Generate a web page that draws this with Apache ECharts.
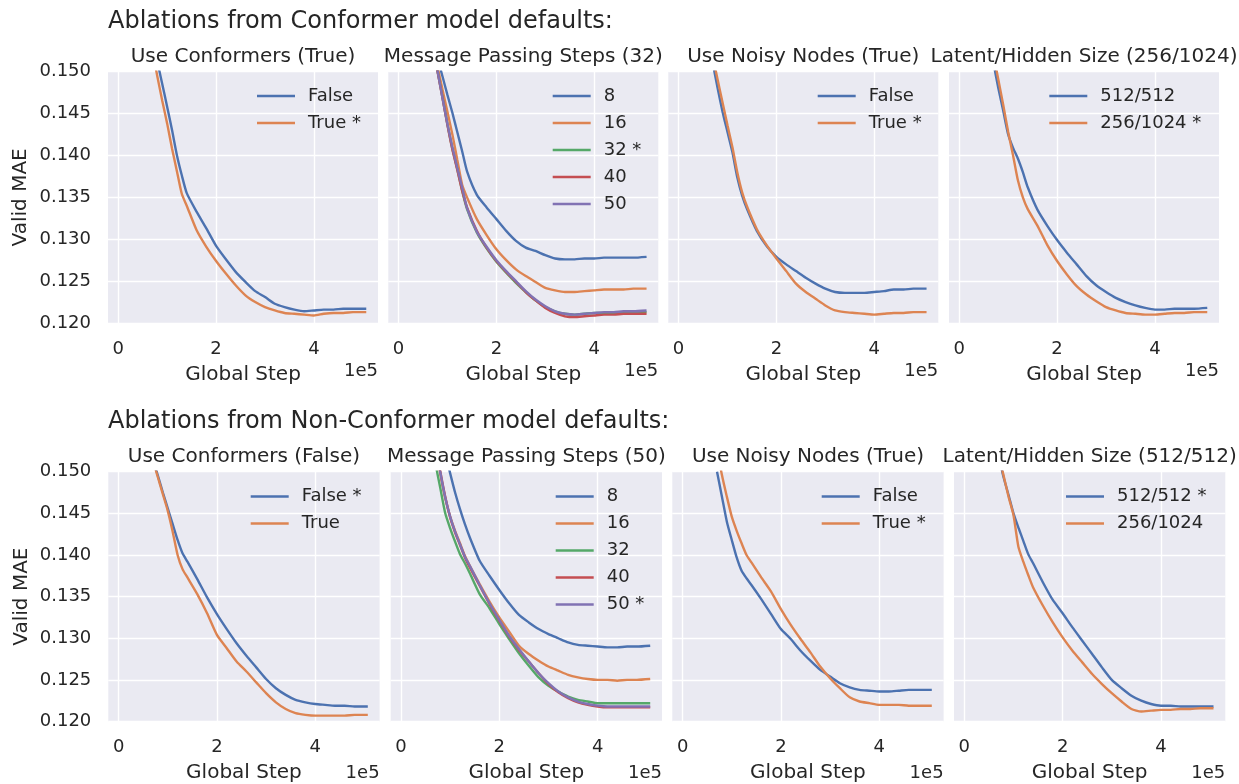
<!DOCTYPE html>
<html><head><meta charset="utf-8">
<script src="https://cdn.jsdelivr.net/npm/echarts@6/dist/echarts.min.js"></script>
<style>html,body{margin:0;padding:0;background:#fff}#c{width:1239px;height:784px}</style>
</head><body><div id="c"></div><script>
// Global step (x 1e5)
const STEPS = [0.7,0.8,0.9,1.0,1.1,1.2,1.3,1.4,1.6,1.8,2.0,2.2,2.4,2.6,2.8,3.0,3.2,3.4,3.6,3.8,4.0,4.2,4.4,4.6,4.8,5.07];
const X_TICKS = [0, 2, 4];

const ROW_TITLES = ['Ablations from Conformer model defaults:', 'Ablations from Non-Conformer model defaults:'];
const PANEL_TITLES = [
  'Use Conformers (True)', 'Message Passing Steps (32)', 'Use Noisy Nodes (True)', 'Latent/Hidden Size (256/1024)',
  'Use Conformers (False)', 'Message Passing Steps (50)', 'Use Noisy Nodes (True)', 'Latent/Hidden Size (512/512)'
];
const LEGEND_LABELS = [
  ['False', 'True *'], ['8', '16', '32 *', '40', '50'], ['False', 'True *'], ['512/512', '256/1024 *'],
  ['False *', 'True'], ['8', '16', '32', '40', '50 *'], ['False', 'True *'], ['512/512 *', '256/1024']
];

// Row 1: Conformer defaults
const A_CONF_FALSE = [0.1543,0.1512,0.1485,0.1458,0.1430,0.1400,0.1376,0.1355,0.1333,0.1313,0.1292,0.1276,0.1261,0.1249,0.1238,0.1231,0.1223,0.1219,0.1216,0.1214,0.1215,0.1216,0.1216,0.1217,0.1217,0.1217];
const A_CONF_TRUE  = [0.1525,0.1494,0.1465,0.1438,0.1408,0.1381,0.1354,0.1340,0.1311,0.1291,0.1274,0.1259,0.1245,0.1233,0.1225,0.1219,0.1215,0.1212,0.1211,0.1210,0.1209,0.1211,0.1212,0.1212,0.1213,0.1213];
const A_MP_8  = [0.1537,0.1515,0.1494,0.1472,0.1451,0.1428,0.1405,0.1381,0.1353,0.1338,0.1324,0.1310,0.1298,0.1290,0.1286,0.1281,0.1277,0.1276,0.1276,0.1277,0.1277,0.1278,0.1278,0.1278,0.1278,0.1279];
const A_MP_16 = [0.1532,0.1505,0.1478,0.1452,0.1425,0.1395,0.1365,0.1350,0.1324,0.1305,0.1288,0.1275,0.1264,0.1256,0.1249,0.1242,0.1239,0.1237,0.1237,0.1238,0.1239,0.1240,0.1240,0.1240,0.1241,0.1241];
const A_MP_32 = [0.1530,0.1500,0.1469,0.1437,0.1408,0.1384,0.1358,0.1336,0.1308,0.1289,0.1273,0.1260,0.1248,0.1237,0.1227,0.1219,0.1214,0.1211,0.1210,0.1211,0.1212,0.1212,0.1212,0.1212,0.1213,0.1213];
const A_MP_40 = [0.1530,0.1499,0.1468,0.1436,0.1407,0.1383,0.1358,0.1338,0.1310,0.1290,0.1274,0.1261,0.1249,0.1237,0.1227,0.1218,0.1212,0.1208,0.1207,0.1208,0.1209,0.1210,0.1210,0.1211,0.1211,0.1211];
const A_MP_50 = [0.1531,0.1500,0.1468,0.1437,0.1410,0.1385,0.1362,0.1337,0.1309,0.1291,0.1275,0.1262,0.1250,0.1238,0.1228,0.1220,0.1214,0.1211,0.1210,0.1211,0.1212,0.1213,0.1213,0.1214,0.1214,0.1215];
const A_NN_FALSE = [0.1510,0.1480,0.1452,0.1428,0.1404,0.1374,0.1352,0.1336,0.1310,0.1292,0.1279,0.1270,0.1262,0.1254,0.1247,0.1241,0.1237,0.1236,0.1236,0.1236,0.1237,0.1238,0.1240,0.1240,0.1241,0.1241];
const A_NN_TRUE  = [0.1518,0.1490,0.1463,0.1436,0.1410,0.1380,0.1356,0.1339,0.1312,0.1293,0.1277,0.1262,0.1247,0.1237,0.1229,0.1221,0.1215,0.1213,0.1212,0.1211,0.1210,0.1211,0.1212,0.1212,0.1213,0.1213];
const A_LH_512 = [0.1510,0.1480,0.1453,0.1425,0.1409,0.1396,0.1380,0.1362,0.1335,0.1316,0.1299,0.1284,0.1270,0.1256,0.1245,0.1237,0.1230,0.1225,0.1221,0.1218,0.1216,0.1216,0.1217,0.1217,0.1217,0.1218];
const A_LH_256 = [0.1520,0.1490,0.1460,0.1428,0.1400,0.1370,0.1350,0.1336,0.1316,0.1293,0.1274,0.1258,0.1244,0.1234,0.1226,0.1219,0.1215,0.1212,0.1211,0.1210,0.1210,0.1211,0.1212,0.1212,0.1213,0.1213];

// Row 2: Non-Conformer defaults
const B_CONF_FALSE = [0.1515,0.1495,0.1475,0.1456,0.1437,0.1418,0.1402,0.1392,0.1371,0.1349,0.1329,0.1311,0.1294,0.1279,0.1265,0.1251,0.1240,0.1232,0.1226,0.1223,0.1221,0.1220,0.1219,0.1219,0.1218,0.1218];
const B_CONF_TRUE  = [0.1513,0.1493,0.1473,0.1453,0.1428,0.1400,0.1383,0.1373,0.1353,0.1330,0.1304,0.1288,0.1272,0.1260,0.1247,0.1234,0.1223,0.1215,0.1210,0.1208,0.1207,0.1207,0.1207,0.1207,0.1208,0.1208];
const B_MP_8  = [0.1570,0.1545,0.1522,0.1498,0.1475,0.1455,0.1437,0.1421,0.1393,0.1375,0.1358,0.1342,0.1328,0.1319,0.1311,0.1305,0.1300,0.1295,0.1292,0.1291,0.1290,0.1289,0.1289,0.1290,0.1290,0.1291];
const B_MP_16 = [0.1530,0.1497,0.1468,0.1446,0.1429,0.1414,0.1399,0.1387,0.1365,0.1344,0.1325,0.1308,0.1291,0.1281,0.1273,0.1266,0.1261,0.1256,0.1253,0.1251,0.1250,0.1250,0.1249,0.1250,0.1250,0.1251];
const B_MP_32 = [0.1510,0.1480,0.1450,0.1432,0.1416,0.1401,0.1390,0.1378,0.1353,0.1336,0.1317,0.1299,0.1282,0.1267,0.1253,0.1243,0.1236,0.1230,0.1226,0.1224,0.1222,0.1222,0.1222,0.1222,0.1222,0.1222];
const B_MP_40 = [0.1535,0.1500,0.1470,0.1445,0.1427,0.1412,0.1397,0.1385,0.1363,0.1341,0.1321,0.1302,0.1286,0.1272,0.1258,0.1245,0.1235,0.1228,0.1223,0.1220,0.1218,0.1217,0.1217,0.1217,0.1217,0.1217];
const B_MP_50 = [0.1533,0.1499,0.1469,0.1446,0.1428,0.1413,0.1398,0.1387,0.1364,0.1342,0.1322,0.1303,0.1287,0.1272,0.1258,0.1246,0.1236,0.1229,0.1224,0.1221,0.1219,0.1218,0.1218,0.1218,0.1218,0.1218];
const B_NN_FALSE = [0.1500,0.1470,0.1440,0.1418,0.1397,0.1381,0.1372,0.1364,0.1347,0.1329,0.1311,0.1299,0.1285,0.1273,0.1262,0.1254,0.1246,0.1241,0.1238,0.1237,0.1236,0.1236,0.1237,0.1238,0.1238,0.1238];
const B_NN_TRUE  = [0.1527,0.1496,0.1470,0.1446,0.1429,0.1414,0.1400,0.1391,0.1373,0.1356,0.1335,0.1316,0.1299,0.1283,0.1266,0.1252,0.1240,0.1229,0.1224,0.1222,0.1220,0.1220,0.1220,0.1219,0.1219,0.1219];
const B_LH_512 = [0.1518,0.1493,0.1472,0.1450,0.1433,0.1417,0.1401,0.1390,0.1367,0.1346,0.1330,0.1313,0.1297,0.1281,0.1265,0.1250,0.1240,0.1231,0.1225,0.1221,0.1219,0.1219,0.1218,0.1218,0.1218,0.1218];
const B_LH_256 = [0.1520,0.1495,0.1470,0.1448,0.1410,0.1392,0.1376,0.1361,0.1339,0.1319,0.1301,0.1285,0.1271,0.1257,0.1245,0.1234,0.1224,0.1215,0.1212,0.1213,0.1214,0.1214,0.1215,0.1215,0.1216,0.1216];

const PANEL_VALUES = [
  [A_CONF_FALSE, A_CONF_TRUE], [A_MP_8, A_MP_16, A_MP_32, A_MP_40, A_MP_50], [A_NN_FALSE, A_NN_TRUE], [A_LH_512, A_LH_256],
  [B_CONF_FALSE, B_CONF_TRUE], [B_MP_8, B_MP_16, B_MP_32, B_MP_40, B_MP_50], [B_NN_FALSE, B_NN_TRUE], [B_LH_512, B_LH_256]
];

// ---- styling / layout ----
const PALETTE = ['#4C72B0', '#DD8452', '#55A868', '#C44E52', '#8172B3'];
const FONT = 'DejaVu Sans';
const INK = '#262626';
const ROW_TOP = [71.7, 471.7];
const ROW_H = [251.3, 252.3];
const ROW_LEFTS = [[108, 388.3, 668.3, 949], [108.3, 390.7, 672.3, 954]];
const ROW_W = [270, 271.3];
const ROW_TITLE_Y = [22, 422];
const PANEL_TITLE_Y = [56.5, 456.5];
const EXP_Y = [371.5, 773.5];
const LEG_LEFT = [[257, 552.7, 817.7, 1049.3], [250.7, 555.7, 821.7, 1066]];
const LEG_TOP = [87, 487.5];

const grids = [], xAxes = [], yAxes = [], series = [], legends = [], titles = [];
for (let r = 0; r < 2; r++) {
  titles.push({ text: ROW_TITLES[r], left: 108, top: ROW_TITLE_Y[r], textAlign: 'left', textVerticalAlign: 'middle', padding: 0,
    textStyle: { fontSize: 24, fontWeight: 'normal', color: INK, fontFamily: FONT } });
  for (let c = 0; c < 4; c++) {
    const p = r * 4 + c;
    const left = ROW_LEFTS[r][c], w = ROW_W[r];
    grids.push({ left: left, top: ROW_TOP[r], width: w, height: ROW_H[r], show: true, backgroundColor: '#EAEAF2', borderWidth: 0 });
    xAxes.push({
      type: 'value', gridIndex: p, min: -0.21, max: 5.31,
      axisLine: { show: false }, axisTick: { show: false, customValues: X_TICKS },
      axisLabel: { customValues: X_TICKS, fontSize: 18, color: INK, fontFamily: FONT, margin: 17, formatter: v => String(v) },
      splitLine: { show: true, lineStyle: { color: '#ffffff', width: 1.4 } },
      name: 'Global Step', nameLocation: 'middle', nameGap: 41.5,
      nameTextStyle: { fontSize: 20, color: INK, fontFamily: FONT }
    });
    yAxes.push({
      type: 'value', gridIndex: p, min: 0.12, max: 0.15, interval: 0.005,
      axisLine: { show: false }, axisTick: { show: false },
      axisLabel: { show: c === 0, fontSize: 18, color: INK, fontFamily: FONT, margin: 17, formatter: v => v.toFixed(3) },
      splitLine: { show: true, lineStyle: { color: '#ffffff', width: 1.4 } },
      name: c === 0 ? 'Valid MAE' : '', nameLocation: 'middle', nameGap: 77,
      nameTextStyle: { fontSize: 20, color: INK, fontFamily: FONT }
    });
    titles.push({ text: PANEL_TITLES[p], left: left + w / 2, top: PANEL_TITLE_Y[r], textAlign: 'center', textVerticalAlign: 'middle', padding: 0,
      textStyle: { fontSize: 20, fontWeight: 'normal', color: INK, fontFamily: FONT } });
    titles.push({ text: '1e5', left: left + w, top: EXP_Y[r], textAlign: 'right', textVerticalAlign: 'middle', padding: 0,
      textStyle: { fontSize: 18, fontWeight: 'normal', color: INK, fontFamily: FONT } });
    const labels = LEGEND_LABELS[p];
    PANEL_VALUES[p].forEach((vals, k) => {
      series.push({
        type: 'line', name: labels[k], xAxisIndex: p, yAxisIndex: p,
        data: STEPS.map((x, i) => [x, vals[i]]),
        showSymbol: false, symbol: 'none', clip: true, silent: true,
        smooth: 0.2,
        lineStyle: { width: 2.4, color: PALETTE[k] }, itemStyle: { color: PALETTE[k] },
        emphasis: { disabled: true }
      });
    });
    legends.push({
      data: labels, left: LEG_LEFT[r][c], top: LEG_TOP[r], orient: 'vertical', padding: 0, itemGap: 9,
      itemWidth: 38, itemHeight: 2.5, icon: 'rect', selectedMode: false,
      textStyle: { fontSize: 18, color: INK, fontFamily: FONT, lineHeight: 18, padding: [0, 0, 0, 8] }
    });
  }
}

const chart = echarts.init(document.getElementById('c'), null, { renderer: 'canvas' });
chart.setOption({
  animation: false,
  backgroundColor: '#ffffff',
  textStyle: { fontFamily: FONT },
  title: titles, grid: grids, xAxis: xAxes, yAxis: yAxes, legend: legends, series: series,
  tooltip: { show: false }
});
</script></body></html>
